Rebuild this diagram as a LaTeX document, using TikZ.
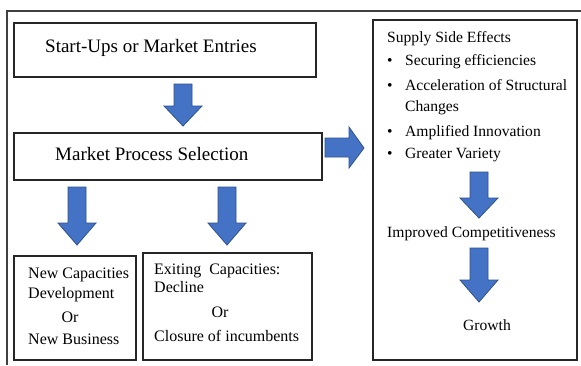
\documentclass[tikz,border=0pt]{standalone}
\usepackage{fontspec}
\setmainfont{LiberationSerif-Regular.ttf}
\begin{document}
\begin{tikzpicture}[x=1pt,y=-1pt,
  frame/.style={draw=black!75, line width=1.8pt},
  box/.style={draw=black!85, line width=1.4pt, fill=none},
  barrow/.style={fill=arrowblue, draw=arrowedge, line width=0.8pt, line join=miter},
  big/.style={font=\fontsize{19}{22}\selectfont, inner sep=0pt, anchor=base west},
  txt/.style={font=\fontsize{16}{19}\selectfont, inner sep=0pt, anchor=base west},
  rtxt/.style={font=\fontsize{15.6}{19}\selectfont, inner sep=0pt, anchor=base west}]
\definecolor{arrowblue}{HTML}{4472C4}
\definecolor{arrowedge}{HTML}{2F528F}
\newcommand{\DArr}[4]{%
  \draw[barrow] ({#1-9},#2) -- ({#1+9},#2) -- ({#1+9},#3) -- ({#1+19},#3) -- (#1,#4) -- ({#1-19},#3) -- ({#1-9},#3) -- cycle;}
\useasboundingbox (0,0) rectangle (581,365);
\fill[white] (0,0) rectangle (581,365);
% outer frame (top and left only visible)
\draw[frame] (581,11) -- (7,11) -- (7,365);
% boxes
\draw[box] (14,23) rectangle (316,77);
\node[big] (t1) at (45,52) {Start-Ups or Market Entries};
\draw[box] (14,133) rectangle (322,180);
\node[big] (t2) at (55,160) {Market Process Selection};
\draw[box] (14,256) rectangle (136,360);
\node[txt] (n1) at (28,278) {New Capacities};
\node[txt] (n2) at (28,298) {Development};
\node[txt, anchor=base] (n3) at (70,322) {Or};
\node[txt] (n4) at (28,344) {New Business};
\draw[box] (143,253) rectangle (312,360);
\node[txt] (e1) at (154,274) {Exiting\ \ Capacities:};
\node[txt] (e2) at (154,292) {Decline};
\node[txt, anchor=base] (e3) at (220,317) {Or};
\node[txt] (e4) at (154,341) {Closure of incumbents};
\draw[box] (373,20) rectangle (577,360);
\node[rtxt] (s0) at (387,42) {Supply Side Effects};
\foreach \y/\t [count=\i] in {65/Securing efficiencies, 90/Acceleration of Structural, 136/Amplified Innovation, 158/Greater Variety}{
  \node[rtxt] (b\i) at (387,\y) {\textbullet};
  \node[rtxt] (s\i) at (405,\y) {\t};
}
\node[rtxt] (s5) at (405,111) {Changes};
\node[rtxt] (ic) at (387,237) {Improved Competitiveness};
\node[rtxt] (gr) at (463,330) {Growth};
% block arrows
\DArr{183}{84}{106}{126}
\DArr{77}{187}{223}{245}
\DArr{227}{187}{223}{245}
\DArr{479}{172}{198}{218}
\DArr{479}{248}{280}{302}
\draw[barrow] (325,138) -- (349,138) -- (349,127) -- (364,148) -- (349,168) -- (349,157) -- (325,157) -- cycle;
\end{tikzpicture}
\end{document}
